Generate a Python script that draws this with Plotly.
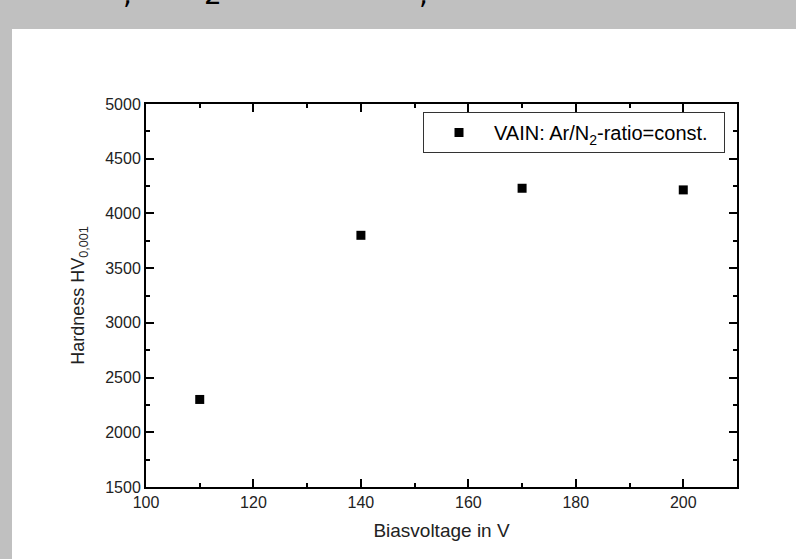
import plotly.graph_objects as go

bias_v = [110, 140, 170, 200]
hardness = [2300, 3800, 4230, 4215]
series_name = "VAIN: Ar/N<sub>2</sub>-ratio=const."
x_title = "Biasvoltage in V"
y_title = "Hardness HV<sub>0,001</sub>"

W, H = 796, 559
L, R, T, B = 146, 59, 104, 72
pw, ph = W - L - R, H - T - B

def px_to_paper_x(px):
    return (px - L) / pw

def px_to_paper_y(py):
    return (H - B - py) / ph

fig = go.Figure()
fig.add_trace(go.Scatter(
    x=bias_v, y=hardness, mode="markers", name=series_name + "&#160;&#160;",
    marker=dict(symbol="square", size=9, color="black"),
))

font = "Liberation Sans, Arial, sans-serif"
axis_common = dict(
    showline=True, linecolor="black", linewidth=2, mirror="ticks",
    ticks="inside", ticklen=8, tickwidth=2, tickcolor="black",
    showgrid=False, zeroline=False,
    tickfont=dict(family=font, size=16, color="#222"),
)

fig.update_xaxes(range=[100, 210], dtick=20, tick0=100,
                 minor=dict(ticks="inside", ticklen=4, tickwidth=1.5, tickcolor="black", dtick=10, showgrid=False),
                 title=dict(text=x_title, font=dict(family=font, size=19, color="#222"), standoff=13),
                 **axis_common)
fig.update_yaxes(range=[1500, 5000], dtick=500, tick0=1500,
                 minor=dict(ticks="inside", ticklen=4, tickwidth=1.5, tickcolor="black", dtick=250, showgrid=False),
                 title=dict(text=y_title, font=dict(family=font, size=18, color="#222"), standoff=16),
                 **axis_common)

shapes = [dict(type="rect", xref="paper", yref="paper", layer="below",
               x0=px_to_paper_x(12), x1=px_to_paper_x(W + 5),
               y0=px_to_paper_y(H + 5), y1=px_to_paper_y(29),
               fillcolor="white", line=dict(width=0))]

annotations = []
for txt, xpx in [(",", 127), ("2", 213), (",", 423)]:
    annotations.append(dict(text=txt, xref="paper", yref="paper",
                            x=px_to_paper_x(xpx), y=px_to_paper_y(13),
                            yanchor="bottom", xanchor="center", showarrow=False,
                            font=dict(family="DejaVu Sans, sans-serif", size=28, color="black")))

fig.update_layout(
    width=W, height=H,
    margin=dict(l=L, r=R, t=T, b=B),
    paper_bgcolor="#c0c0c0", plot_bgcolor="white",
    shapes=shapes, annotations=annotations,
    showlegend=True,
    legend=dict(x=px_to_paper_x(725), y=px_to_paper_y(112), xanchor="right", yanchor="top",
                bgcolor="white", bordercolor="#333", borderwidth=1, itemwidth=60,
                font=dict(family=font, size=20, color="black")),
)

fig.write_html("out.html")
